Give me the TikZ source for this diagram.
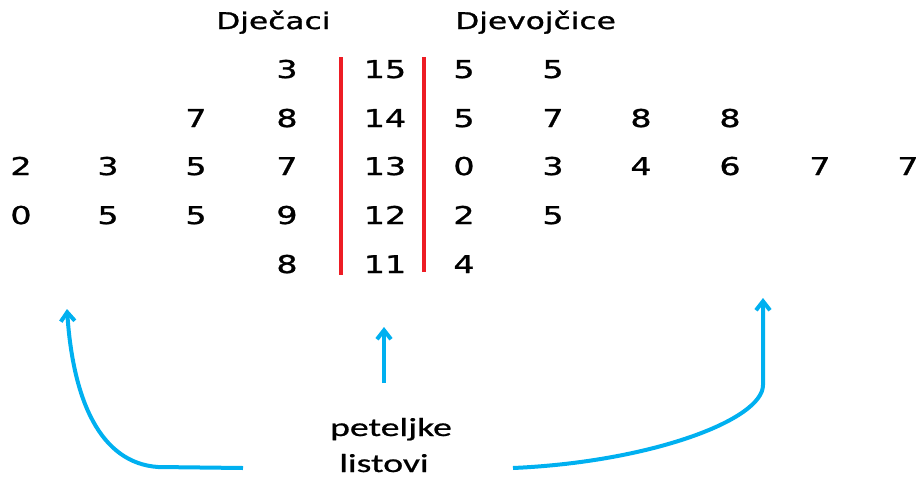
\documentclass[tikz,border=0pt]{standalone}
\usepackage{fontspec}
\usetikzlibrary{arrows.meta}
\newfontfamily\numfont[FakeStretch=1.36,FakeBold=1.2]{DejaVu Sans}
\newfontfamily\lblfont[FakeStretch=1.45,FakeBold=0.8]{Carlito}
\definecolor{stemred}{RGB}{237,28,36}
\definecolor{arrowblue}{RGB}{0,176,240}
\begin{document}
\begin{tikzpicture}[x=1pt,y=-1pt,
  dig/.style={anchor=base, inner sep=0pt, font=\numfont\fontsize{24.5}{24.5}\selectfont},
  hdr/.style={anchor=base west, inner sep=0pt, font=\numfont\fontsize{23}{23}\selectfont},
  lbl/.style={anchor=base, inner sep=0pt, font=\lblfont\fontsize{26}{26}\selectfont},
  divider/.style={draw=stemred, line width=4.5pt},
  pointer/.style={draw=arrowblue, line width=4pt, line join=round, -{Straight Barb[length=9pt,width=14pt]}}]
\path[use as bounding box] (0,0) rectangle (920,479);

% headers
\node[hdr] (boys) at (216,29) {Dječaci};
\node[hdr] (girls) at (455,29) {Djevojčice};

% row 15
\node[dig] (b1d) at (287,78) {3};
\node[dig] (s1) at (385,78) {15};
\node[dig] (g1a) at (464,78) {5};
\node[dig] (g1b) at (553,78) {5};
% row 14
\node[dig] (b2c) at (196,127) {7};
\node[dig] (b2d) at (287,127) {8};
\node[dig] (s2) at (385,127) {14};
\node[dig] (g2a) at (464,127) {5};
\node[dig] (g2b) at (553,127) {7};
\node[dig] (g2c) at (641,127) {8};
\node[dig] (g2d) at (730,127) {8};
% row 13
\node[dig] (b3a) at (21,175) {2};
\node[dig] (b3b) at (108,175) {3};
\node[dig] (b3c) at (196,175) {5};
\node[dig] (b3d) at (287,175) {7};
\node[dig] (s3) at (385,175) {13};
\node[dig] (g3a) at (464,175) {0};
\node[dig] (g3b) at (553,175) {3};
\node[dig] (g3c) at (641,175) {4};
\node[dig] (g3d) at (730,175) {6};
\node[dig] (g3e) at (820,175) {7};
\node[dig] (g3f) at (908,175) {7};
% row 12
\node[dig] (b4a) at (21,224) {0};
\node[dig] (b4b) at (108,224) {5};
\node[dig] (b4c) at (196,224) {5};
\node[dig] (b4d) at (287,224) {9};
\node[dig] (s4) at (385,224) {12};
\node[dig] (g4a) at (464,224) {2};
\node[dig] (g4b) at (553,224) {5};
% row 11
\node[dig] (b5d) at (287,273) {8};
\node[dig] (s5) at (385,273) {11};
\node[dig] (g5a) at (464,273) {4};

% dividers
\coordinate (d1t) at (341,57);
\coordinate (d1b) at (341,275);
\coordinate (d2t) at (424,57);
\coordinate (d2b) at (424,272);
\draw[divider] (d1t) -- (d1b);
\draw[divider] (d2t) -- (d2b);

% labels
\node[lbl] (stems) at (391,436) {peteljke};
\node[lbl] (leaves) at (384,472) {listovi};

% arrows
\coordinate (lstart) at (243,468);
\coordinate (lcorner) at (158,467);
\coordinate (ltip) at (67,309);
\coordinate (mstart) at (384,383);
\coordinate (mtip) at (384,327);
\coordinate (rstart) at (513,468);
\coordinate (rbend) at (763,385);
\coordinate (rtip) at (763,298);
\draw[pointer] (lstart) -- (lcorner) .. controls (100,463) and (73,400) .. (ltip);
\draw[pointer] (mstart) -- (mtip);
\draw[pointer] (rstart) .. controls (650,462) and (763,420) .. (rbend) -- (rtip);
\end{tikzpicture}
\end{document}
